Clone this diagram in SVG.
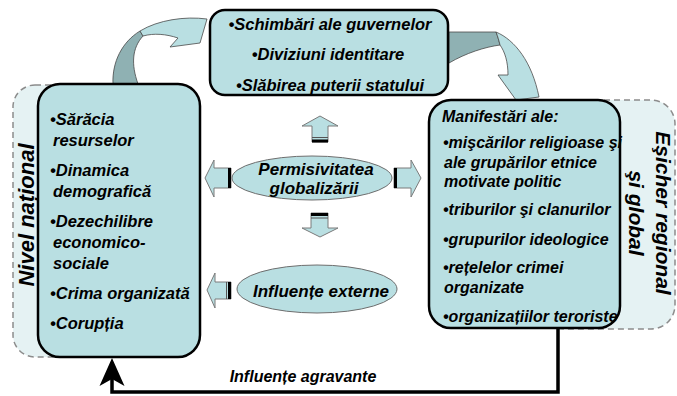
<svg xmlns="http://www.w3.org/2000/svg" width="677" height="396" viewBox="0 0 677 396">
<defs>
<style>
.t{font-family:"Liberation Sans",Arial,sans-serif;font-weight:bold;font-style:italic;fill:#000}
.box{fill:#b9dfe2;stroke:#000;stroke-width:2.5}
.bg{fill:#e5f2f3;stroke:#8c8c8c;stroke-width:1.5;stroke-dasharray:6 4}
.ell{fill:#b9dfe2;stroke:#6e6e6e;stroke-width:1}
.barrow{fill:#b9dfe2;stroke:#7a7a7a;stroke-width:1}
.bar{stroke:#000;stroke-width:3}
.bar2{stroke:#555;stroke-width:1}
.dark{fill:#8fb1b3;stroke:#4a4a4a;stroke-width:0.8}
.light{fill:#b9dfe2;stroke:#4a4a4a;stroke-width:0.8}
.conn{fill:none;stroke:#000;stroke-width:3.5}
</style>
<marker id="ah" markerUnits="userSpaceOnUse" viewBox="0 0 28 26" refX="20" refY="13" markerWidth="28" markerHeight="26" orient="auto">
<path d="M0,0.5 L28,13 L0,25.5 L7,13 Z" fill="#000"/>
</marker>
</defs>

<g id="bg-national">
<rect class="bg" x="13" y="85" width="150" height="272" rx="22"/>
<text class="t" font-size="22" text-anchor="middle" transform="translate(34,215) rotate(-90)">Nivel național</text>
</g>
<g id="bg-regional">
<rect class="bg" x="540" y="100" width="135" height="229" rx="24"/>
<text class="t" font-size="21" text-anchor="middle" transform="translate(656,213) rotate(90)">Eşicher regional</text>
<text class="t" font-size="21" text-anchor="middle" transform="translate(629,213) rotate(90)">şi global</text>
</g>

<g id="connectors">
<path class="dark" d="M113,84 C112,62 122,42 140,31 L143,36 C132,48 131,64 138,84 Z"/>
<path class="light" d="M140,31 C158,20 185,16 207,19 L200,43 L170,47 L178,38 C166,34 154,33 143,36 Z"/>
<path class="dark" d="M449,32 L496,32 C498,37 499,41 500,45 C485,47 466,53 449,63 Z"/>
<path class="light" d="M496,32 C515,40 532,62 539,97 L516,100 L498,75 L508,75 C508,62 505,52 500,45 C499,41 498,37 496,32 Z"/>

<polygon class="barrow" points="320,116 338,126 328,126 328,142 312,142 312,126 302,126"/>
<line class="bar2" x1="312" y1="137.5" x2="328" y2="137.5"/>
<line class="bar" x1="312" y1="141" x2="328" y2="141"/>

<polygon class="barrow" points="311,213 328,213 328,228 338,228 320,237 302,228 311,228"/>
<line class="bar" x1="311" y1="214.5" x2="328" y2="214.5"/>
<line class="bar2" x1="311" y1="218" x2="328" y2="218"/>

<polygon class="barrow" points="205,178 214,160 214,168 231,168 231,188 214,188 214,197"/>
<line class="bar" x1="229.5" y1="168" x2="229.5" y2="188"/>

<polygon class="barrow" points="394,168 411,168 411,160 421,178 411,197 411,188 394,188"/>
<line class="bar" x1="395.5" y1="168" x2="395.5" y2="188"/>

<polygon class="barrow" points="207,290 215,273 215,282 231,282 231,299 215,299 215,308"/>
<line class="bar2" x1="226.5" y1="282" x2="226.5" y2="299"/>
<line class="bar" x1="229.5" y1="282" x2="229.5" y2="299"/>

<path class="conn" d="M558,328 V392 H112 V366" marker-end="url(#ah)"/>
<text class="t" font-size="16" x="303" y="382" text-anchor="middle">Influențe agravante</text>
</g>

<g id="node-top">
<rect class="box" x="210" y="10" width="238" height="85" rx="15"/>
<text class="t" font-size="16.5" x="330" y="30" text-anchor="middle">•Schimbări ale guvernelor</text>
<text class="t" font-size="16.5" x="328" y="60" text-anchor="middle">•Diviziuni identitare</text>
<text class="t" font-size="16.5" x="330" y="91" text-anchor="middle">•Slăbirea puterii statului</text>
</g>

<g id="node-left">
<rect class="box" x="38" y="84" width="162" height="273" rx="22"/>
<text class="t" font-size="16.5" x="50" y="125">•Sărăcia</text>
<text class="t" font-size="16.5" x="53" y="146">resurselor</text>
<text class="t" font-size="16.5" x="50" y="176">•Dinamica</text>
<text class="t" font-size="16.5" x="53" y="197">demografică</text>
<text class="t" font-size="16.5" x="50" y="227">•Dezechilibre</text>
<text class="t" font-size="16.5" x="53" y="248">economico-</text>
<text class="t" font-size="16.5" x="53" y="269">sociale</text>
<text class="t" font-size="16.5" x="50" y="299">•Crima organizată</text>
<text class="t" font-size="16.5" x="50" y="329">•Corupția</text>
</g>

<g id="node-right">
<rect class="box" x="429" y="100" width="191" height="228" rx="22"/>
<text class="t" font-size="16" x="442" y="122">Manifestări ale:</text>
<text class="t" font-size="16" x="443" y="148">•mişcărilor religioase şi</text>
<text class="t" font-size="16" x="444" y="168">ale grupărilor etnice</text>
<text class="t" font-size="16" x="444" y="187">motivate politic</text>
<text class="t" font-size="16" x="443" y="215">•triburilor şi clanurilor</text>
<text class="t" font-size="16" x="443" y="245">•grupurilor ideologice</text>
<text class="t" font-size="16" x="443" y="273">•rețelelor crimei</text>
<text class="t" font-size="16" x="444" y="293">organizate</text>
<text class="t" font-size="16" x="443" y="322">•organizațiilor teroriste</text>
</g>

<g id="node-permisivitate">
<ellipse class="ell" cx="312" cy="178" rx="80" ry="22"/>
<text class="t" font-size="17" x="316" y="175" text-anchor="middle">Permisivitatea</text>
<text class="t" font-size="17" x="314" y="194" text-anchor="middle">globalizării</text>
</g>

<g id="node-influente">
<ellipse class="ell" cx="317" cy="289" rx="80" ry="24"/>
<text class="t" font-size="17" x="321" y="297" text-anchor="middle">Influențe externe</text>
</g>
</svg>
